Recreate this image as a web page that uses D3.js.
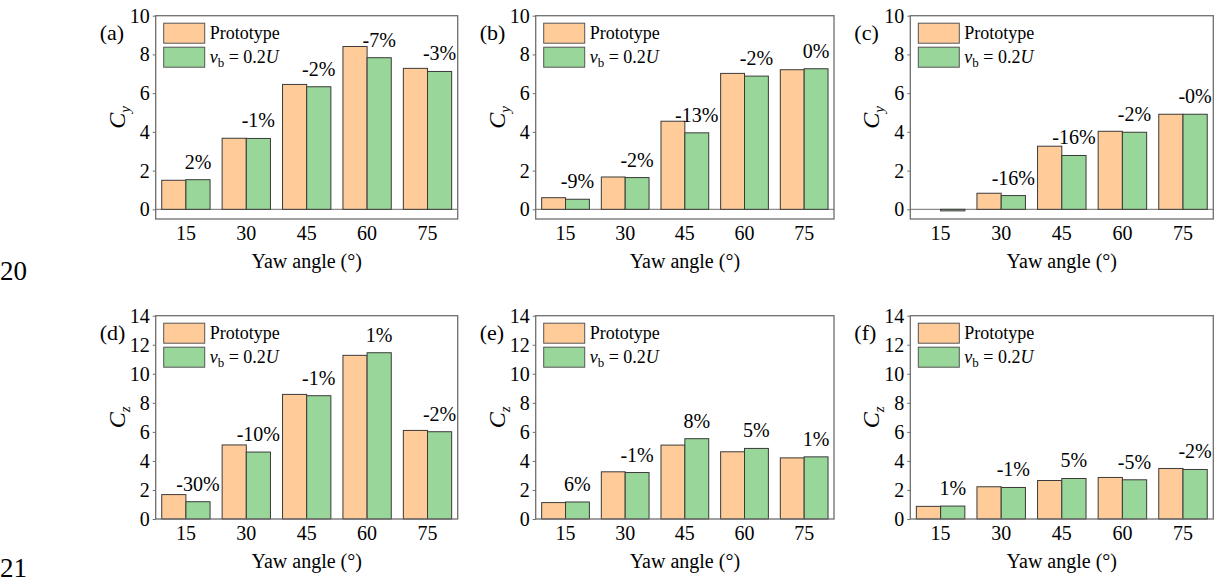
<!DOCTYPE html>
<html>
<head>
<meta charset="utf-8">
<script src="https://cdn.jsdelivr.net/npm/d3@7"></script>
<style>
  body { margin: 0; background: #fff; }
  svg text { font-family: "Liberation Serif", "Times New Roman", "DejaVu Serif", serif; fill: #000; }
</style>
</head>
<body>
<div id="chart"></div>
<script>
// ------------------------------------------------------
// Data

const categories = ['15', '30', '45', '60', '75']

// Cy, top row
const protoA = [1.50, 3.67, 6.45, 8.41, 7.28]
const vbA = [1.53, 3.66, 6.33, 7.83, 7.12]
const pctA = ['2%', '-1%', '-2%', '-7%', '-3%']

const protoB = [0.60, 1.67, 4.55, 7.02, 7.21]
const vbB = [0.52, 1.64, 3.95, 6.88, 7.26]
const pctB = ['-9%', '-2%', '-13%', '-2%', '0%']

const protoC = [0.00, 0.83, 3.26, 4.03, 4.91]
const vbC = [-0.08, 0.71, 2.78, 3.98, 4.91]
const pctC = ['', '-16%', '-16%', '-2%', '-0%']

// Cz, bottom row
const protoD = [1.68, 5.10, 8.58, 11.27, 6.10]
const vbD = [1.19, 4.61, 8.49, 11.45, 6.01]
const pctD = ['-30%', '-10%', '-1%', '1%', '-2%']

const protoE = [1.13, 3.25, 5.09, 4.63, 4.21]
const vbE = [1.17, 3.20, 5.53, 4.86, 4.28]
const pctE = ['6%', '-1%', '8%', '5%', '1%']

const protoF = [0.87, 2.22, 2.65, 2.86, 3.48]
const vbF = [0.89, 2.17, 2.79, 2.70, 3.41]
const pctF = ['1%', '-1%', '5%', '-5%', '-2%']

const cyTicks = [0, 2, 4, 6, 8, 10]
const czTicks = [0, 2, 4, 6, 8, 10, 12, 14]

// ------------------------------------------------------
// Layout

const width = 1231
const height = 584
const serif = '"Liberation Serif", "Times New Roman", serif'

const colProto = '#ffcc99'
const colVb = '#99d699'

const cols = [[155.7, 457.7], [535.7, 834], [910.3, 1213.3]]
const rows = [[15.7, 219], [315.7, 519]]

const panels = [
  { tag: '(a)', col: 0, row: 0, proto: protoA, vb: vbA, pct: pctA, sub: 'y', domain: [-0.5, 10], ticks: cyTicks },
  { tag: '(b)', col: 1, row: 0, proto: protoB, vb: vbB, pct: pctB, sub: 'y', domain: [-0.5, 10], ticks: cyTicks },
  { tag: '(c)', col: 2, row: 0, proto: protoC, vb: vbC, pct: pctC, sub: 'y', domain: [-0.5, 10], ticks: cyTicks },
  { tag: '(d)', col: 0, row: 1, proto: protoD, vb: vbD, pct: pctD, sub: 'z', domain: [0, 14], ticks: czTicks },
  { tag: '(e)', col: 1, row: 1, proto: protoE, vb: vbE, pct: pctE, sub: 'z', domain: [0, 14], ticks: czTicks },
  { tag: '(f)', col: 2, row: 1, proto: protoF, vb: vbF, pct: pctF, sub: 'z', domain: [0, 14], ticks: czTicks }
]

const svg = d3.select('#chart')
  .append('svg')
  .attr('width', width)
  .attr('height', height)

// page line numbers on the left margin
svg.append('text').attr('x', 0).attr('y', 280)
  .attr('font-size', 27).text('20')
svg.append('text').attr('x', 0).attr('y', 577)
  .attr('font-size', 27).text('21')

panels.forEach(drawPanel)

function drawPanel(p) {
  const [x0, x1] = cols[p.col]
  const [y0, y1] = rows[p.row]
  const w = x1 - x0
  const h = y1 - y0

  const g = svg.append('g').attr('transform', `translate(${x0},${y0})`)

  const x = d3.scaleBand()
    .domain(categories)
    .range([0, w])
    .paddingInner(0.2)
    .paddingOuter(0.1)

  const xs = d3.scaleBand()
    .domain(['proto', 'vb'])
    .range([0, x.bandwidth()])

  const y = d3.scaleLinear()
    .domain(p.domain)
    .range([h, 0])

  // zero line when the axis goes below 0
  if (p.domain[0] < 0) {
    g.append('line')
      .attr('x1', 0).attr('x2', w)
      .attr('y1', y(0)).attr('y2', y(0))
      .attr('stroke', '#8a8a8a').attr('stroke-width', 1.2)
  }

  const rows2 = categories.map((c, i) => ({ c, proto: p.proto[i], vb: p.vb[i], pct: p.pct[i] }))

  const grp = g.selectAll('g.cat')
    .data(rows2)
    .enter()
    .append('g')
    .attr('transform', d => `translate(${x(d.c)},0)`)

  grp.filter(d => d.proto !== 0)
    .append('rect')
    .attr('x', xs('proto'))
    .attr('width', xs.bandwidth())
    .attr('y', d => y(Math.max(0, d.proto)))
    .attr('height', d => Math.abs(y(d.proto) - y(0)))
    .attr('fill', colProto)
    .attr('stroke', '#3a3a3a')
    .attr('stroke-width', 1)

  grp.append('rect')
    .attr('x', xs('vb'))
    .attr('width', xs.bandwidth())
    .attr('y', d => y(Math.max(0, d.vb)))
    .attr('height', d => Math.max(1, Math.abs(y(d.vb) - y(0))))
    .attr('fill', colVb)
    .attr('stroke', '#3a3a3a')
    .attr('stroke-width', 1)

  // percentage labels sit above the green bar
  grp.append('text')
    .attr('x', xs('vb') + xs.bandwidth() / 2)
    .attr('y', d => y(Math.max(0, d.vb)) - 11)
    .attr('text-anchor', 'middle')
    .attr('font-size', 20)
    .text(d => d.pct)

  // frame
  g.append('rect')
    .attr('width', w).attr('height', h)
    .attr('fill', 'none')
    .attr('stroke', '#6e6e6e')
    .attr('stroke-width', 1.3)

  // y axis
  const yAxis = d3.axisLeft(y)
    .tickValues(p.ticks)
    .tickSize(3)
    .tickPadding(3)
  const ya = g.append('g').call(yAxis)
  ya.attr('font-family', serif)
  ya.select('.domain').remove()
  ya.selectAll('line').attr('stroke', '#6e6e6e')
  ya.selectAll('text')
    .attr('font-size', 20)
    .attr('fill', '#000')

  // x axis
  const xAxis = d3.axisBottom(x).tickSize(0).tickPadding(7)
  const xa = g.append('g').attr('transform', `translate(0,${h})`).call(xAxis)
  xa.attr('font-family', serif)
  xa.select('.domain').remove()
  xa.selectAll('text')
    .attr('font-size', 20)
    .attr('fill', '#000')

  // axis titles
  g.append('text')
    .attr('x', w / 2)
    .attr('y', h + 49)
    .attr('text-anchor', 'middle')
    .attr('font-size', 20)
    .text('Yaw angle (°)')

  const yl = g.append('text')
    .attr('transform', `translate(-31,${h / 2}) rotate(-90)`)
    .attr('text-anchor', 'middle')
    .attr('font-size', 24)
  yl.append('tspan').attr('font-style', 'italic').text('C')
  yl.append('tspan').attr('font-style', 'italic').attr('font-size', 15).attr('dy', 5).text(p.sub)

  // panel tag
  g.append('text')
    .attr('x', -56)
    .attr('y', 24)
    .attr('font-size', 22)
    .text(p.tag)

  // legend
  const lg = g.append('g').attr('transform', 'translate(8,7.5)')
  const legendItems = [{ fill: colProto }, { fill: colVb }]
  lg.selectAll('rect')
    .data(legendItems)
    .enter()
    .append('rect')
    .attr('x', 0)
    .attr('y', (d, i) => i * 24)
    .attr('width', 41)
    .attr('height', 20)
    .attr('fill', d => d.fill)
    .attr('stroke', '#555')
    .attr('stroke-width', 1)

  lg.append('text')
    .attr('x', 46).attr('y', 16)
    .attr('font-size', 18)
    .text('Prototype')

  const l2 = lg.append('text')
    .attr('x', 46).attr('y', 40)
    .attr('font-size', 18)
  l2.append('tspan').attr('font-style', 'italic').text('v')
  l2.append('tspan').attr('font-size', 13).attr('dy', 4).text('b')
  l2.append('tspan').attr('dy', -4).text(' = 0.2')
  l2.append('tspan').attr('font-style', 'italic').text('U')
}
</script>
</body>
</html>
